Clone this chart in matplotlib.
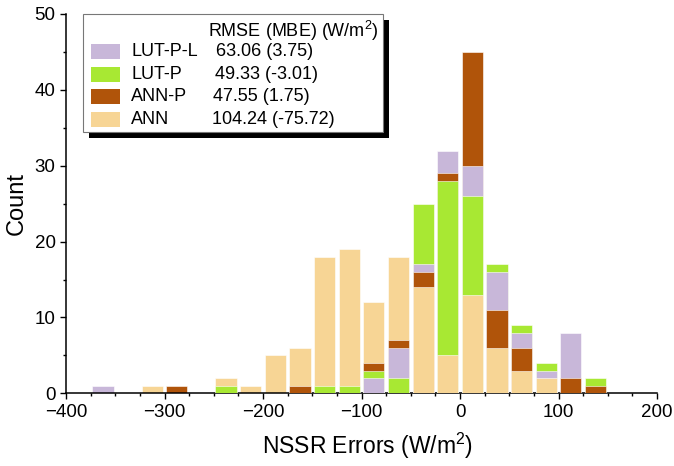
import matplotlib
matplotlib.use('Agg')
import matplotlib.pyplot as plt
import numpy as np
from matplotlib.patches import Rectangle

plt.rcParams['font.family'] = ['Liberation Sans', 'DejaVu Sans']
plt.rcParams['mathtext.fontset'] = 'custom'
plt.rcParams['mathtext.rm'] = 'Liberation Sans'
plt.rcParams['mathtext.it'] = 'Liberation Sans'

# histogram bins (width 25), centres
bin_centers = [-362.5, -337.5, -312.5, -287.5, -262.5, -237.5, -212.5,
               -187.5, -162.5, -137.5, -112.5, -87.5, -62.5, -37.5,
               -12.5, 12.5, 37.5, 62.5, 87.5, 112.5, 137.5]

lut_p_l = [1, 0, 0, 0, 0, 0, 0, 0, 0, 0, 0, 2, 6, 17, 32, 30, 16, 8, 3, 8, 0]
lut_p = [0, 0, 0, 0, 0, 1, 0, 0, 0, 1, 1, 3, 2, 25, 28, 26, 17, 9, 4, 0, 2]
ann_p = [0, 0, 0, 1, 0, 0, 0, 0, 1, 0, 0, 4, 7, 16, 29, 45, 11, 6, 0, 2, 1]
ann = [0, 0, 1, 0, 0, 2, 1, 5, 6, 18, 19, 12, 18, 14, 5, 13, 6, 3, 2, 0, 0]

names = ['LUT-P-L', 'LUT-P', 'ANN-P', 'ANN']
stats = ['63.06 (3.75)', '49.33 (-3.01)', '47.55 (1.75)', '104.24 (-75.72)']
colors = ['#C8B7D9', '#A8E833', '#B0540A', '#F7D595']

series = [lut_p_l, lut_p, ann_p, ann]

fig = plt.figure(figsize=(6.74, 4.66), dpi=100)
ax = fig.add_axes([0.0979, 0.156, 0.877, 0.814])

containers = []
for vals, c in zip(series, colors):
    bc = ax.bar(bin_centers, vals, width=21.5, color=c, edgecolor='white',
                linewidth=0.4)
    containers.append(bc)

# overlapping bars: tallest in each bin goes to the back
heights = np.array(series)
for i in range(len(bin_centers)):
    order = np.argsort(-heights[:, i], kind='stable')
    for rank, s in enumerate(order):
        containers[s].patches[i].set_zorder(2 + rank)

ax.set_xlim(-400, 200)
ax.set_ylim(0, 50)
ax.set_xticks(np.arange(-400, 201, 100))
ax.set_xticks(np.arange(-400, 201, 25), minor=True)
ax.set_yticks(np.arange(0, 51, 10))
ax.set_yticks(np.arange(0, 51, 5), minor=True)
ax.tick_params(which='major', length=4, width=1, labelsize=13.5, direction='out')
ax.tick_params(which='minor', length=2.3, width=1, direction='out')
ax.spines['top'].set_visible(False)
ax.spines['right'].set_visible(False)
for s in ['left', 'bottom']:
    ax.spines[s].set_linewidth(1.1)

ax.set_xlabel('NSSR Errors (W/m$^2$)', fontsize=16.5)
ax.set_ylabel('Count', fontsize=17, labelpad=5)
ax.xaxis.set_label_coords(0.51, -0.098)

# legend box with black drop shadow
lx0, lx1, ly0, ly1 = 0.028, 0.536, 0.69, 1.0
dx, dy = 0.0102, 0.0158
ax.add_patch(Rectangle((lx0 + dx, ly0 - dy), lx1 - lx0, ly1 - ly0,
                       transform=ax.transAxes, facecolor='black',
                       edgecolor='none', zorder=20, clip_on=False))
ax.add_patch(Rectangle((lx0, ly0), lx1 - lx0, ly1 - ly0,
                       transform=ax.transAxes, facecolor='white',
                       edgecolor='#777777', linewidth=0.8, zorder=21,
                       clip_on=False))
ax.text(0.2408, 0.956, 'RMSE (MBE) (W/m$^2$)', transform=ax.transAxes,
        fontsize=13, va='center', ha='left', zorder=22)

row_y = [0.9003, 0.8413, 0.7817, 0.7219]
val_x = [0.2533, 0.2521, 0.2492, 0.2465]
for name, st, c, y, vx in zip(names, stats, colors, row_y, val_x):
    ax.add_patch(Rectangle((0.0418, y - 0.0198), 0.0496, 0.0395,
                           transform=ax.transAxes, facecolor=c,
                           edgecolor='none', zorder=22, clip_on=False))
    ax.text(0.110, y, name, transform=ax.transAxes, fontsize=13,
            va='center', ha='left', zorder=22)
    ax.text(vx, y, st, transform=ax.transAxes, fontsize=13,
            va='center', ha='left', zorder=22)

fig.savefig('out.png', dpi=100)
